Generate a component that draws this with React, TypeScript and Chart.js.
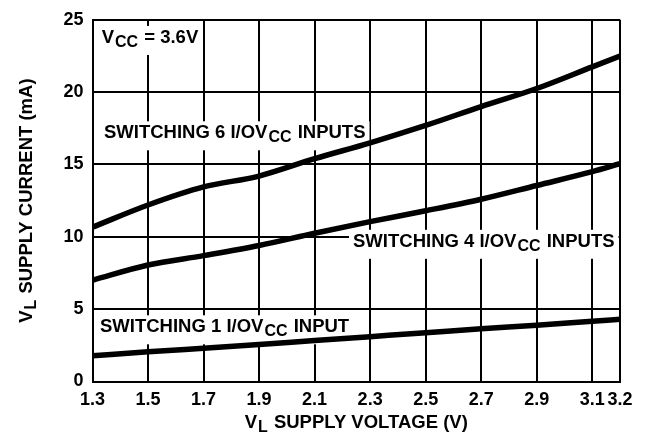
import React, { useEffect, useRef } from "react";
import { Chart, registerables } from "chart.js";

Chart.register(...registerables);

// ---- data ----
const voltages = [1.3, 1.5, 1.7, 1.9, 2.1, 2.3, 2.5, 2.7, 2.9, 3.1, 3.2];
const switching6 = [10.67, 12.2, 13.45, 14.2, 15.4, 16.5, 17.7, 19.0, 20.25, 21.75, 22.5];
const switching4 = [7.0, 8.05, 8.7, 9.4, 10.25, 11.05, 11.8, 12.6, 13.55, 14.5, 15.05];
const switching1 = [1.78, 2.05, 2.3, 2.55, 2.83, 3.1, 3.37, 3.65, 3.88, 4.17, 4.3];
const xTicks = [1.3, 1.5, 1.7, 1.9, 2.1, 2.3, 2.5, 2.7, 2.9, 3.1, 3.2];
const yTicks = [0, 5, 10, 15, 20, 25];

type Part = { t: string; sub?: boolean };
const labelTexts: Part[][] = [
  [{ t: "V" }, { t: "CC", sub: true }, { t: " = 3.6V" }],
  [{ t: "SWITCHING 6 I/OV" }, { t: "CC", sub: true }, { t: " INPUTS" }],
  [{ t: "SWITCHING 4 I/OV" }, { t: "CC", sub: true }, { t: " INPUTS" }],
  [{ t: "SWITCHING 1 I/OV" }, { t: "CC", sub: true }, { t: " INPUT" }],
];
// anchor (left edge, baseline) in data units
const labelX = [1.333, 1.3414, 2.2384, 1.327];
const labelY = [23.4, 16.81, 9.31, 3.4];

const xTitle: Part[] = [{ t: "V" }, { t: "L", sub: true }, { t: " SUPPLY VOLTAGE (V)" }];
const yTitle: Part[] = [{ t: "V" }, { t: "L", sub: true }, { t: " SUPPLY CURRENT (mA)" }];

const FAMILY = '"Liberation Sans", Arial, Helvetica, sans-serif';
const MAIN_FONT = `bold 18.5px ${FAMILY}`;
const SUB_FONT = `bold 16px ${FAMILY}`;

function measureRich(ctx: CanvasRenderingContext2D, parts: Part[]) {
  let w = 0;
  for (const p of parts) {
    ctx.font = p.sub ? SUB_FONT : MAIN_FONT;
    w += ctx.measureText(p.t).width + (p.sub ? 2 : 0);
  }
  return w;
}

function drawRich(ctx: CanvasRenderingContext2D, parts: Part[], x: number, y: number) {
  let cx = x;
  ctx.textAlign = "left";
  ctx.textBaseline = "alphabetic";
  ctx.fillStyle = "#000";
  for (const p of parts) {
    if (p.sub) {
      ctx.font = SUB_FONT;
      cx += 1;
      ctx.fillText(p.t, cx, y + 4);
      cx += ctx.measureText(p.t).width + 1;
    } else {
      ctx.font = MAIN_FONT;
      ctx.fillText(p.t, cx, y);
      cx += ctx.measureText(p.t).width;
    }
  }
}

const annotPlugin = {
  id: "annot",
  beforeDatasetsDraw(chart: any) {
    const ctx: CanvasRenderingContext2D = chart.ctx;
    const xs = chart.scales.x;
    const ys = chart.scales.y;
    const area = chart.chartArea;
    ctx.save();
    labelTexts.forEach((parts, i) => {
      const px = xs.getPixelForValue(labelX[i]);
      const py = ys.getPixelForValue(labelY[i]);
      const w = measureRich(ctx, parts);
      const l = Math.max(area.left + 1.5, px - 4);
      const r = Math.min(area.right - 1.5, px + w + 4);
      ctx.fillStyle = "#fff";
      ctx.fillRect(l, py - 17, r - l, 29);
      drawRich(ctx, parts, px, py);
    });
    ctx.restore();
  },
  afterDraw(chart: any) {
    const ctx: CanvasRenderingContext2D = chart.ctx;
    const area = chart.chartArea;
    ctx.save();
    // x title
    const wx = measureRich(ctx, xTitle);
    drawRich(ctx, xTitle, (area.left + area.right) / 2 - wx / 2, 428);
    // y title
    const wy = measureRich(ctx, yTitle);
    ctx.translate(32, (area.top + area.bottom) / 2);
    ctx.rotate(-Math.PI / 2);
    drawRich(ctx, yTitle, -wy / 2, 0);
    ctx.restore();
  },
};

const tickFont = { size: 18, weight: "bold" as const, family: FAMILY };

export default function App() {
  const ref = useRef<HTMLCanvasElement | null>(null);
  useEffect(() => {
    document.body.style.margin = "0";
    const canvas = ref.current!;
    const mk = (data: number[]) => ({
      data: voltages.map((v, i) => ({ x: v, y: data[i] })),
      borderColor: "#000",
      borderWidth: 5.5,
      pointRadius: 0,
      cubicInterpolationMode: "monotone" as const,
      fill: false,
    });
    const chart = new Chart(canvas, {
      type: "line",
      data: {
        datasets: [mk(switching6), mk(switching4), mk(switching1)],
      },
      options: {
        animation: false,
        responsive: false,
        layout: { padding: { left: 0, right: 28, top: 15, bottom: 0 } },
        plugins: { legend: { display: false }, tooltip: { enabled: false } },
        events: [],
        scales: {
          x: {
            type: "linear",
            min: 1.3,
            max: 3.2,
            afterBuildTicks: (s: any) => {
              s.ticks = xTicks.map((v) => ({ value: v }));
            },
            afterFit: (s: any) => {
              s.height = 50.5;
            },
            ticks: {
              font: tickFont,
              color: "#000",
              padding: 8,
              maxRotation: 0,
              autoSkip: false,
              callback: (v: any) => Number(v).toFixed(1),
            },
            grid: { color: "#000", lineWidth: 2, drawTicks: false },
            border: { color: "#000", width: 2 },
          },
          y: {
            type: "linear",
            min: 0,
            max: 25,
            afterBuildTicks: (s: any) => {
              s.ticks = yTicks.map((v) => ({ value: v }));
            },
            afterFit: (s: any) => {
              s.width = 92.5;
            },
            ticks: {
              font: tickFont,
              color: "#000",
              padding: 9,
              callback: (v: any) => String(v),
            },
            grid: { color: "#000", lineWidth: 2, drawTicks: false },
            border: { color: "#000", width: 2 },
          },
        },
      },
      plugins: [annotPlugin],
    });
    return () => chart.destroy();
  }, []);
  return (
    <div style={{ width: 648, height: 432, background: "#fff" }}>
      <canvas ref={ref} width={648} height={432} style={{ display: "block" }} />
    </div>
  );
}
